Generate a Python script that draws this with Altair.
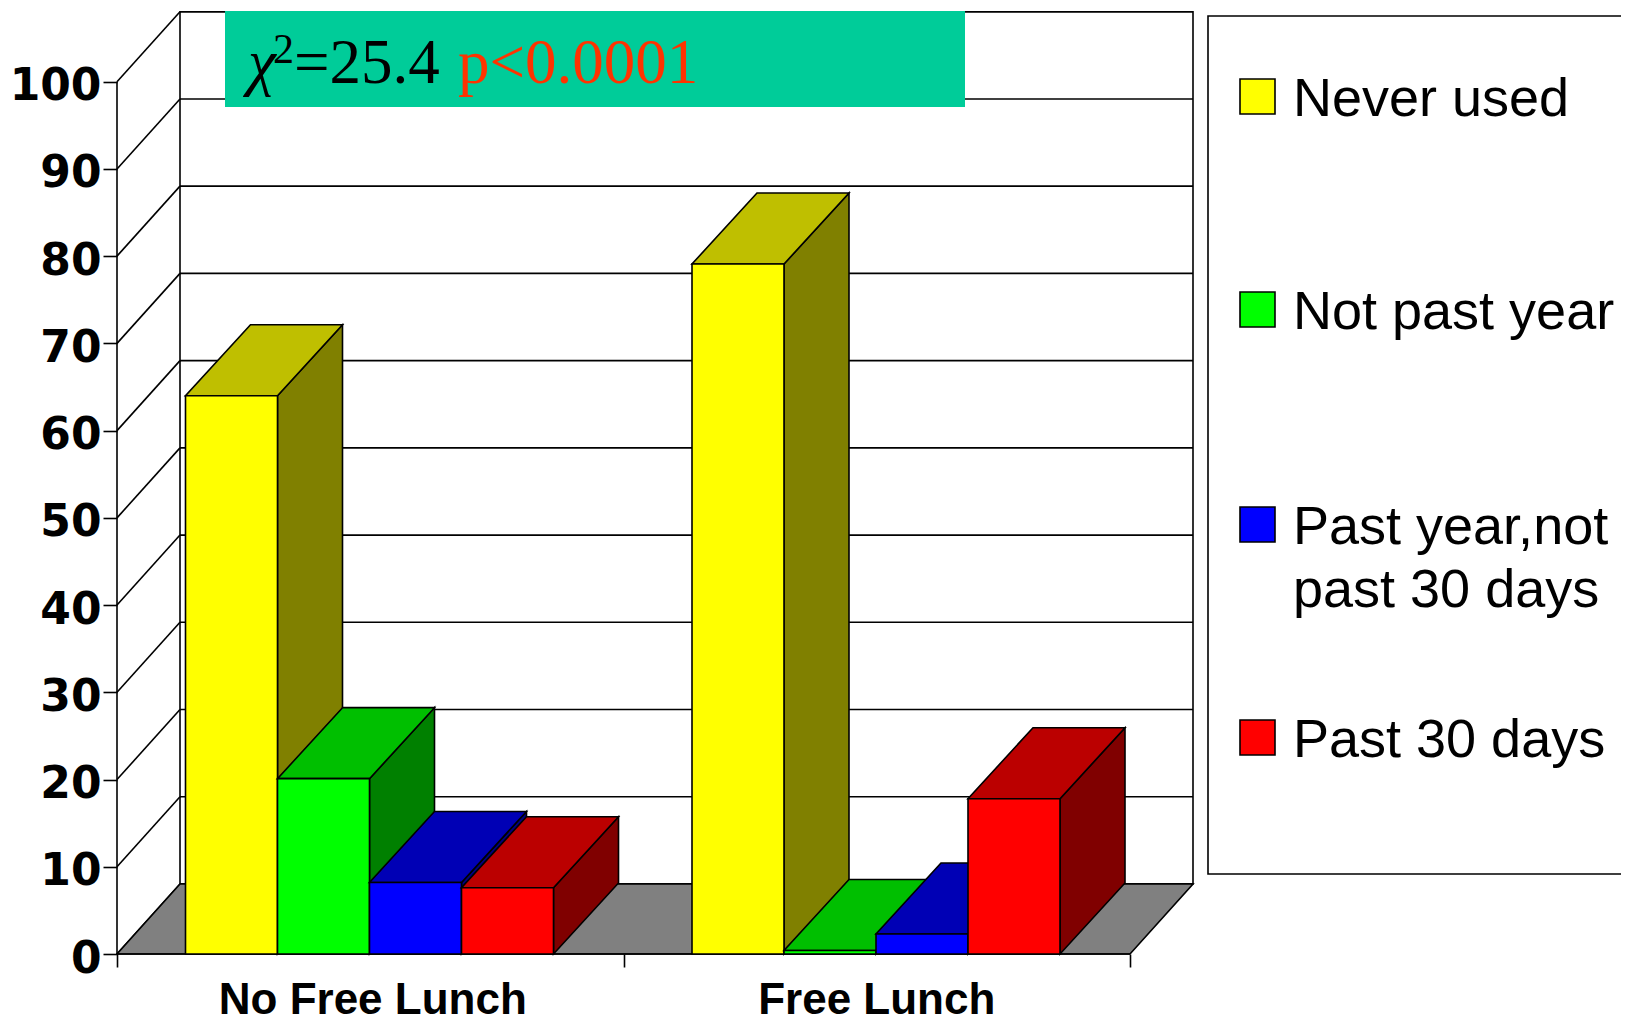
import altair as alt
import pandas as pd

groups = ["No Free Lunch", "Free Lunch"]
series = ["Never used", "Not past year", "Past year,not past 30 days", "Past 30 days"]
no_free_lunch = [64.0, 20.1, 8.2, 7.6]
free_lunch = [79.1, 0.4, 2.3, 17.8]
front_colors = ["#FFFF00", "#00FF00", "#0000FF", "#FF0000"]
top_colors = ["#BFBF00", "#00BF00", "#0000B5", "#BB0000"]
side_colors = ["#808000", "#008000", "#000080", "#800000"]
y_ticks = list(range(0, 101, 10))

# geometry of the 3D box, in axis units
W_PX, H_PX = 1504, 946
PX_PER_GROUP = 506.5
PX_PER_VAL = 8.723
DX = 63 / PX_PER_GROUP
DY = 70 / PX_PER_VAL
BAR_DX = 65 / PX_PER_GROUP
BAR_DY = 71 / PX_PER_VAL
BAR_W = 92 / PX_PER_GROUP
BAR_START = 68.5 / PX_PER_GROUP

xs = alt.Scale(domain=[0, W_PX / PX_PER_GROUP], nice=False, zero=False)
ys = alt.Scale(domain=[0, H_PX / PX_PER_VAL], nice=False, zero=False)
X = lambda f="x", **k: alt.X(f"{f}:Q", scale=xs, axis=k.pop("axis", alt.Undefined), title=None)
Y = lambda f="y", **k: alt.Y(f"{f}:Q", scale=ys, axis=k.pop("axis", alt.Undefined), title=None, stack=None)
LW = 1.6
layers = []

# axes
y_axis = alt.Axis(values=y_ticks, domain=False, grid=False, tickSize=14, tickColor="black", tickWidth=LW,
                  labelFont="DejaVu Sans", labelFontWeight="bold", labelFontSize=44, labelColor="black",
                  labelPadding=2, labelOffset=5, labelOverlap=False, labelFlush=False)
x_axis = alt.Axis(values=[0, 1, 2], domain=False, grid=False, tickSize=13, tickColor="black", tickWidth=LW,
                  labels=False)
layers.append(
    alt.Chart(pd.DataFrame({"x": [0], "y": [0]})).mark_point(opacity=0).encode(x=X(axis=x_axis), y=Y(axis=y_axis))
)

# back wall
wall = pd.DataFrame({"x": [DX], "x2": [2 + DX], "y": [DY], "y2": [100 + DY]})
layers.append(alt.Chart(wall).mark_rect(fill="white", stroke="black", strokeWidth=LW).encode(
    x=X(), x2="x2:Q", y=Y(), y2="y2:Q"))
grid = pd.DataFrame({"x": DX, "x2": 2 + DX, "y": [v + DY for v in y_ticks]})
layers.append(alt.Chart(grid).mark_rule(color="black", strokeWidth=LW).encode(x=X(), x2="x2:Q", y=Y()))
slant = pd.DataFrame([{"v": v, "x": x, "y": v + o} for v in y_ticks for x, o in ((0, 0), (DX, DY))])
layers.append(alt.Chart(slant).mark_line(color="black", strokeWidth=LW).encode(x=X(), y=Y(), detail="v:N"))

# floor
floor = pd.DataFrame({"y": [0, DY], "x": [0, DX], "x2": [2, 2 + DX]})
layers.append(alt.Chart(floor).mark_area(orient="horizontal", fill="#808080", stroke="black", strokeWidth=LW).encode(
    y=Y(), x=X(), x2="x2:Q"))

# left axis line and front base line
layers.append(alt.Chart(pd.DataFrame({"x": [0], "y": [0], "y2": [100]})).mark_rule(color="black", strokeWidth=LW).encode(
    x=X(), y=Y(), y2="y2:Q"))
layers.append(alt.Chart(pd.DataFrame({"x": [0], "x2": [2], "y": [0]})).mark_rule(color="black", strokeWidth=LW).encode(
    x=X(), x2="x2:Q", y=Y()))

# bars
for g, vals in enumerate([no_free_lunch, free_lunch]):
    for i, v in enumerate(vals):
        x0 = g + BAR_START + i * BAR_W
        x1 = x0 + BAR_W
        side = pd.DataFrame({"x": [x1, x1 + BAR_DX], "y": [v, v + BAR_DY], "y2": [0, BAR_DY]})
        layers.append(alt.Chart(side).mark_area(orient="vertical", fill=side_colors[i], stroke="black", strokeWidth=LW).encode(
            x=X(), y=Y(), y2="y2:Q"))
        top = pd.DataFrame({"y": [v, v + BAR_DY], "x": [x0, x0 + BAR_DX], "x2": [x1, x1 + BAR_DX]})
        layers.append(alt.Chart(top).mark_area(orient="horizontal", fill=top_colors[i], stroke="black", strokeWidth=LW).encode(
            y=Y(), x=X(), x2="x2:Q"))
        front = pd.DataFrame({"x": [x0], "x2": [x1], "y": [0], "y2": [v]})
        layers.append(alt.Chart(front).mark_rect(fill=front_colors[i], stroke="black", strokeWidth=LW).encode(
            x=X(), x2="x2:Q", y=Y(), y2="y2:Q"))

# category labels
labels = pd.DataFrame({"x": [0.505, 1.5], "t": groups})
layers.append(alt.Chart(labels).mark_text(font="Liberation Sans", fontWeight="bold", fontSize=44, color="black",
                                           align="center", baseline="alphabetic").encode(
    x=X(), y=alt.value(1014 - 8), text="t:N"))

# helpers in page pixels
OX, OY = 117, 8
def box(x0, y0, x1, y1, **kw):
    return alt.Chart(pd.DataFrame({"a": [0]})).mark_rect(**kw).encode(
        x=alt.value(x0 - OX), x2=alt.value(x1 - OX), y=alt.value(y0 - OY), y2=alt.value(y1 - OY))
def label(s, x, y, **kw):
    return alt.Chart(pd.DataFrame({"t": [s]})).mark_text(align="left", baseline="alphabetic", **kw).encode(
        x=alt.value(x - OX), y=alt.value(y - OY), text="t:N")

# annotation
layers.append(box(225, 11, 965, 107, fill="#00CC99"))
serif = dict(font="Liberation Serif", fontSize=63)
layers.append(label("\u03c7", 248, 83, color="black", fontStyle="italic", **serif))
layers.append(label("2", 273, 63, color="black", font="Liberation Serif", fontSize=42))
layers.append(label("=25.4", 294, 83, color="black", **serif))
layers.append(label("p<0.0001", 458, 83, color="#FF3300", **serif))

# legend
layers.append(box(1208, 16, 1700, 874, fill="white", stroke="black", strokeWidth=LW))
sq_tops = [79, 292, 507, 720]
for c, t in zip(front_colors, sq_tops):
    layers.append(box(1240, t, 1275, t + 35, fill=c, stroke="black", strokeWidth=LW))
sans = dict(font="Liberation Sans", fontSize=54, color="black")
for s, y in [("Never used", 116), ("Not past year", 329), ("Past year,not", 544), ("past 30 days", 607), ("Past 30 days", 757)]:
    layers.append(label(s, 1293, y, **sans))

chart = alt.layer(*layers).properties(
    width=W_PX, height=H_PX,
    padding={"left": 109, "top": 0, "right": 0, "bottom": 70},
    autosize=alt.AutoSizeParams(type="none"),
    background="white",
).configure_view(stroke=None)

chart.save("out.html", embed_options={"renderer": "svg", "actions": False})
